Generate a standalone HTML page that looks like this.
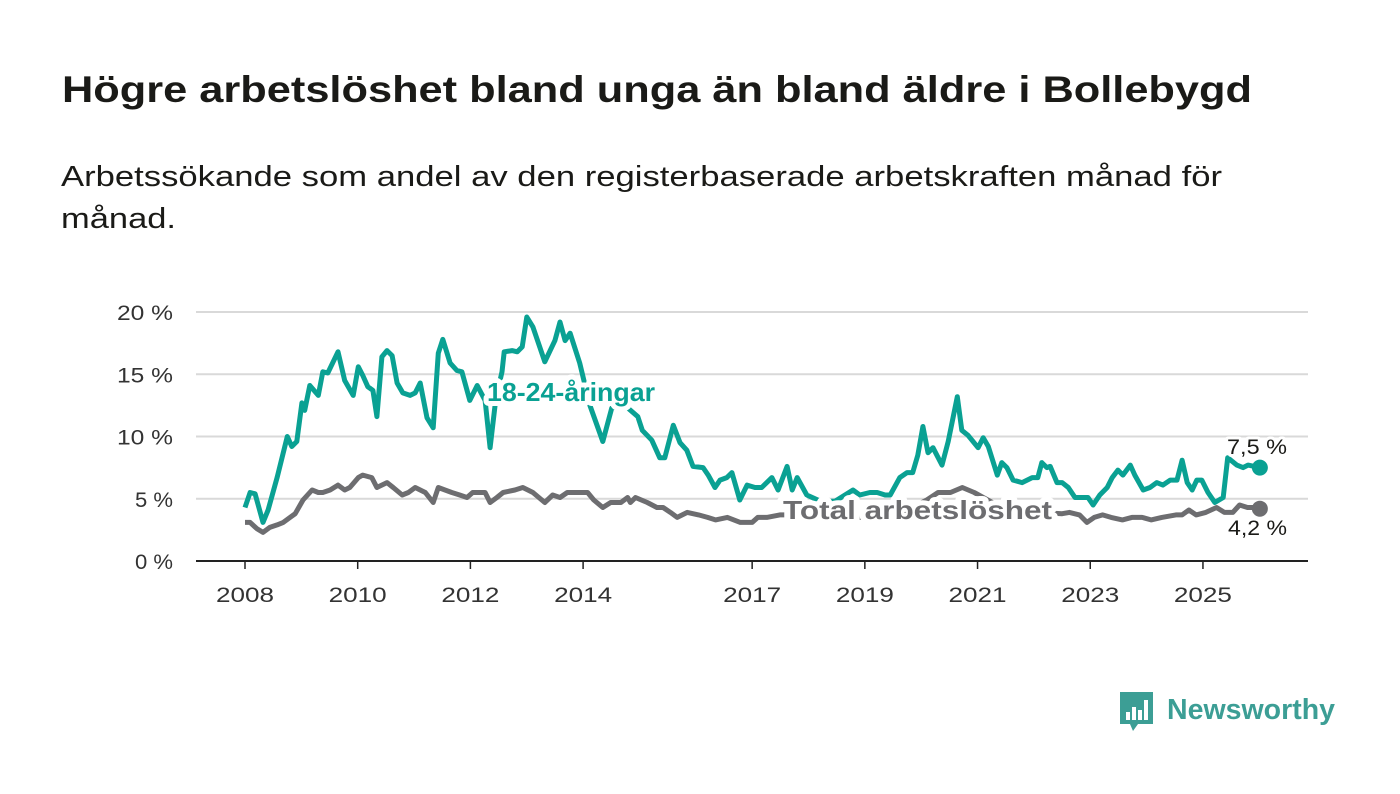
<!DOCTYPE html>
<html><head><meta charset="utf-8">
<style>
body{margin:0;background:#fff;width:1400px;height:794px;overflow:hidden;font-family:"Liberation Sans",sans-serif;color:#1a1a17}
svg{position:absolute;left:0;top:0}
</style></head><body>
<svg id="chart" width="1400" height="794">
<text x="62" y="102" font-size="37" font-weight="bold" fill="#1a1a17" textLength="1190" lengthAdjust="spacingAndGlyphs" font-family="Liberation Sans, sans-serif">Högre arbetslöshet bland unga än bland äldre i Bollebygd</text>
<text x="61" y="186" font-size="29" fill="#1a1a17" textLength="1161" lengthAdjust="spacingAndGlyphs" font-family="Liberation Sans, sans-serif">Arbetssökande som andel av den registerbaserade arbetskraften månad för</text>
<text x="61" y="228" font-size="29" fill="#1a1a17" textLength="115" lengthAdjust="spacingAndGlyphs" font-family="Liberation Sans, sans-serif">månad.</text>
</svg>
<script>
const yTicks=[0,5,10,15,20];
const yTickLabels=["0 %","5 %","10 %","15 %","20 %"];
const xTicks=[2008,2010,2012,2014,2017,2019,2021,2023,2025];
const youthYears=[2008.0,2008.09,2008.18,2008.32,2008.41,2008.57,2008.75,2008.83,2008.92,2009.01,2009.06,2009.15,2009.30,2009.38,2009.47,2009.65,2009.77,2009.92,2010.01,2010.09,2010.18,2010.27,2010.34,2010.43,2010.52,2010.61,2010.70,2010.80,2010.93,2011.02,2011.11,2011.23,2011.34,2011.43,2011.51,2011.64,2011.76,2011.85,2011.99,2012.12,2012.26,2012.35,2012.45,2012.56,2012.60,2012.74,2012.83,2012.92,2013.00,2013.11,2013.32,2013.50,2013.59,2013.68,2013.77,2013.94,2014.12,2014.35,2014.51,2014.74,2014.97,2015.05,2015.22,2015.36,2015.45,2015.60,2015.72,2015.84,2015.95,2016.13,2016.22,2016.34,2016.43,2016.55,2016.64,2016.78,2016.91,2017.05,2017.17,2017.35,2017.46,2017.62,2017.71,2017.80,2017.97,2018.21,2018.47,2018.79,2018.91,2019.09,2019.22,2019.36,2019.45,2019.62,2019.75,2019.85,2019.94,2020.03,2020.12,2020.21,2020.37,2020.48,2020.64,2020.72,2020.83,2021.01,2021.10,2021.19,2021.35,2021.43,2021.52,2021.63,2021.79,2021.97,2022.07,2022.14,2022.23,2022.29,2022.41,2022.50,2022.61,2022.73,2022.85,2022.96,2023.05,2023.17,2023.30,2023.39,2023.49,2023.58,2023.71,2023.79,2023.94,2024.06,2024.18,2024.29,2024.42,2024.54,2024.63,2024.72,2024.81,2024.89,2024.98,2025.09,2025.21,2025.36,2025.44,2025.60,2025.71,2025.80,2026.01];
const youthValues=[4.3,5.5,5.4,3.1,4.1,6.7,10.0,9.2,9.6,12.7,12.1,14.1,13.3,15.2,15.1,16.8,14.5,13.3,15.6,14.9,14.0,13.7,11.6,16.4,16.9,16.5,14.3,13.5,13.3,13.5,14.3,11.5,10.7,16.7,17.8,15.9,15.3,15.2,12.9,14.1,12.9,9.1,13.0,15.2,16.8,16.9,16.8,17.2,19.6,18.8,16.0,17.7,19.2,17.7,18.3,15.9,12.5,9.6,12.3,12.5,11.6,10.5,9.7,8.3,8.3,10.9,9.5,8.9,7.6,7.5,6.9,5.9,6.5,6.7,7.1,4.9,6.1,5.9,5.9,6.7,5.7,7.6,5.7,6.7,5.3,4.8,4.8,5.7,5.3,5.5,5.5,5.3,5.3,6.7,7.1,7.1,8.5,10.8,8.7,9.1,7.7,9.6,13.2,10.5,10.1,9.1,9.9,9.2,6.9,7.9,7.5,6.5,6.3,6.7,6.7,7.9,7.5,7.6,6.3,6.3,5.9,5.1,5.1,5.1,4.5,5.3,5.9,6.7,7.3,6.9,7.7,6.9,5.7,5.9,6.3,6.1,6.5,6.5,8.1,6.3,5.7,6.5,6.5,5.5,4.7,5.1,8.3,7.7,7.5,7.7,7.5];
const totalYears=[2008.0,2008.09,2008.21,2008.32,2008.44,2008.57,2008.68,2008.80,2008.89,2009.03,2009.19,2009.30,2009.38,2009.51,2009.65,2009.77,2009.86,2010.01,2010.09,2010.25,2010.34,2010.52,2010.63,2010.79,2010.90,2011.02,2011.20,2011.34,2011.43,2011.55,2011.67,2011.81,2011.94,2012.04,2012.26,2012.35,2012.47,2012.58,2012.79,2012.93,2013.02,2013.11,2013.32,2013.46,2013.59,2013.72,2013.83,2014.08,2014.19,2014.35,2014.49,2014.67,2014.79,2014.84,2014.93,2015.14,2015.31,2015.42,2015.55,2015.67,2015.85,2016.05,2016.21,2016.35,2016.56,2016.79,2017.00,2017.10,2017.26,2017.49,2017.8,2018.2,2018.6,2019.0,2019.4,2019.8,2020.1,2020.3,2020.52,2020.73,2020.94,2021.3,2021.7,2022.1,2022.5,2022.63,2022.81,2022.94,2023.07,2023.22,2023.37,2023.57,2023.74,2023.92,2024.08,2024.27,2024.52,2024.63,2024.75,2024.88,2025.05,2025.24,2025.38,2025.53,2025.65,2025.79,2025.93,2026.01];
const totalValues=[3.1,3.1,2.6,2.3,2.7,2.9,3.1,3.5,3.8,4.9,5.7,5.5,5.5,5.7,6.1,5.7,5.9,6.7,6.9,6.7,5.9,6.3,5.9,5.3,5.5,5.9,5.5,4.7,5.9,5.7,5.5,5.3,5.1,5.5,5.5,4.7,5.1,5.5,5.7,5.9,5.7,5.5,4.7,5.3,5.1,5.5,5.5,5.5,4.9,4.3,4.7,4.7,5.1,4.7,5.1,4.7,4.3,4.3,3.9,3.5,3.9,3.7,3.5,3.3,3.5,3.1,3.1,3.5,3.5,3.7,3.7,3.6,3.5,3.5,3.6,4.2,4.9,5.5,5.5,5.9,5.5,4.6,4.1,3.9,3.8,3.9,3.7,3.1,3.5,3.7,3.5,3.3,3.5,3.5,3.3,3.5,3.7,3.7,4.1,3.7,3.9,4.3,3.9,3.9,4.5,4.3,4.3,4.2];
const youthLast="7,5 %", totalLast="4,2 %";

const svg=document.getElementById('chart');
const NS='http://www.w3.org/2000/svg';
const X0=196,X1=1308,Y0=561,Y20=312;
const x=yr=>245+(yr-2008)*56.35;
const y=v=>Y0-(v/20)*(Y0-Y20);
function mk(tag,attrs,parent){const e=document.createElementNS(NS,tag);for(const k in attrs)e.setAttribute(k,attrs[k]);(parent||svg).appendChild(e);return e;}
const F='Liberation Sans, sans-serif';
yTicks.forEach((t,i)=>{
  if(t>0){const g=mk('line',{x1:X0,x2:X1,y1:y(t),y2:y(t),stroke:'#d9d9d9','stroke-width':2});
  
  }
  const lbl=yTickLabels[i];
  const tx=mk('text',{x:173,y:y(t)+8,'text-anchor':'end','font-size':21,fill:'#333','font-family':F,textLength:lbl.length>3?56:38,lengthAdjust:'spacingAndGlyphs'});
  tx.textContent=lbl;
  
  
});
const ax=mk('line',{x1:X0,x2:X1,y1:Y0,y2:Y0,stroke:'#222','stroke-width':2});


xTicks.forEach(t=>{
  const tk=mk('line',{x1:x(t),x2:x(t),y1:Y0,y2:Y0+8,stroke:'#222','stroke-width':1.5});
  
  
  const tx=mk('text',{x:x(t)-29,y:602,'font-size':21,fill:'#333','font-family':F,textLength:58,lengthAdjust:'spacingAndGlyphs'});
  tx.textContent=t;
  
  
});
function path(xs,vs){return xs.map((d,i)=>(i?'L':'M')+x(d).toFixed(1)+','+y(vs[i]).toFixed(1)).join('');}
const gl=mk('path',{d:path(totalYears,totalValues),fill:'none',stroke:'#6d6d70','stroke-width':5,'stroke-linejoin':'round'});


const tl=mk('path',{d:path(youthYears,youthValues),fill:'none',stroke:'#0aa193','stroke-width':5,'stroke-linejoin':'round'});


const yl=youthYears.length-1, tlI=totalYears.length-1;
const d1=mk('circle',{cx:x(youthYears[yl]),cy:y(youthValues[yl]),r:8,fill:'#0aa193'});


const d2=mk('circle',{cx:x(totalYears[tlI]),cy:y(totalValues[tlI]),r:8,fill:'#6d6d70'});


function lab(txt,xx,yy,fill,size,bold,len,name){
  const t=mk('text',{x:xx,y:yy,fill:fill,'font-size':size,'font-weight':bold?'bold':'normal',stroke:'#fff','stroke-width':bold?10:6,'paint-order':'stroke','stroke-linejoin':'round','font-family':F,textLength:len,lengthAdjust:'spacingAndGlyphs'});
  t.textContent=txt;return t;}
lab('18-24-åringar',487,401,'#0aa193',26,true,168,'youth-series-label');
lab('Total arbetslöshet',783,519,'#6d6d70',26,true,269,'total-series-label');
lab(youthLast,1227,454,'#1a1a17',21,false,60,'youth-end-value');
lab(totalLast,1228,535,'#1a1a17',21,false,59,'total-end-value');

const lg=mk('g',{});


mk('path',{d:'M1120,692 h33 v32 h-15 l-5,7 l-3,-7 h-10 z',fill:'#3c9e95'},lg);
[[1126,712,4,8],[1132,707,4,13],[1138,710,4,10],[1144,700,4,20]].forEach(r=>mk('rect',{x:r[0],y:r[1],width:r[2],height:r[3],fill:'#fff'},lg));
const lt=mk('text',{x:1167,y:719,fill:'#3c9e95','font-size':29,'font-weight':'bold','font-family':F,textLength:168,lengthAdjust:'spacingAndGlyphs'},lg);
lt.textContent='Newsworthy';
</script>
</body></html>
